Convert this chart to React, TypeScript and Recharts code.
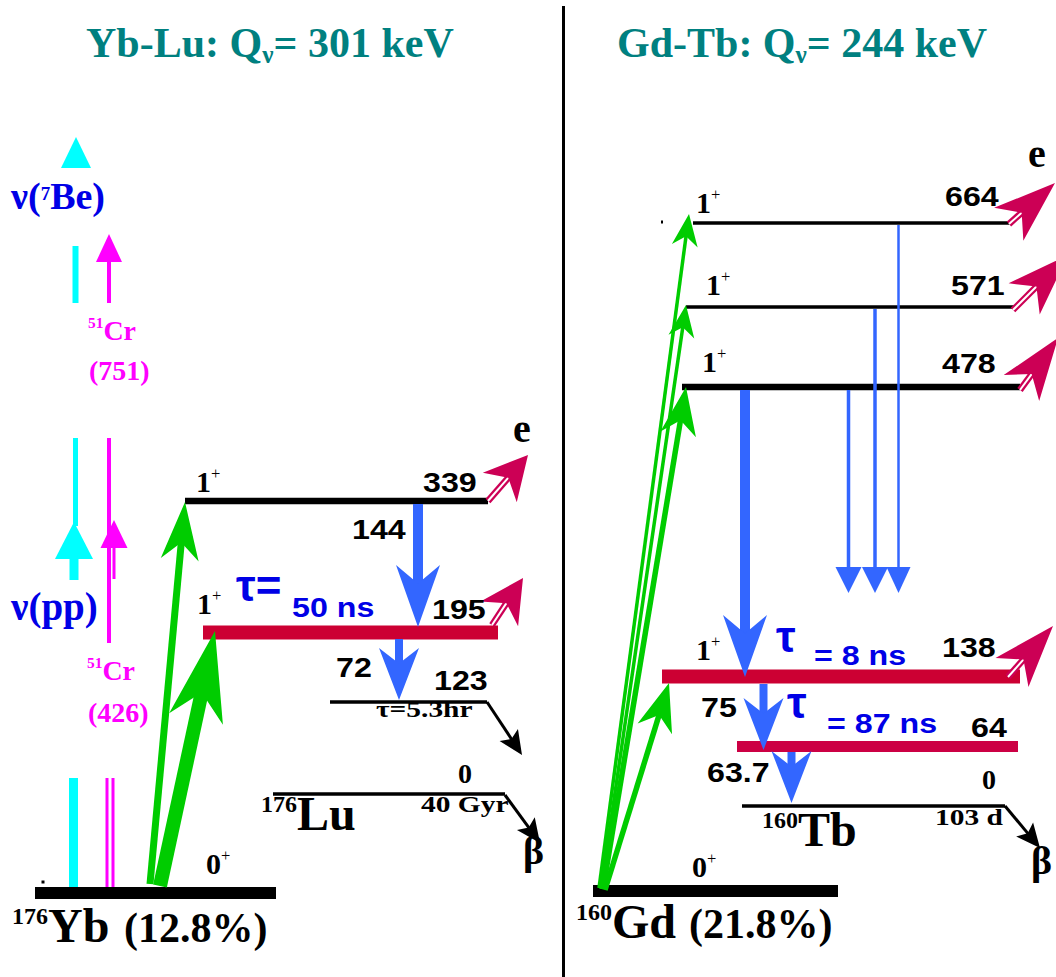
import React from 'react';
import { ComposedChart, XAxis, YAxis, Scatter, ReferenceLine } from 'recharts';

const WIDTH = 1056;
const HEIGHT = 977;

// Diagram grid: x to the right, y downwards (0 = top edge), in drawing units.
const levels = [
  { id: 'yb-0', x1: 35, x2: 276, y: 893, kind: 'ground' },
  { id: 'lu-339', x1: 185, x2: 488, y: 501, kind: 'level' },
  { id: 'lu-195', x1: 203, x2: 498, y: 632.5, kind: 'isomer' },
  { id: 'lu-123', x1: 330, x2: 487, y: 702, kind: 'thin' },
  { id: 'lu-0', x1: 273, x2: 505, y: 794, kind: 'thin' },
  { id: 'gd-0', x1: 593, x2: 838, y: 891, kind: 'ground' },
  { id: 'tb-664', x1: 693, x2: 1013, y: 223, kind: 'thin' },
  { id: 'tb-571', x1: 686, x2: 1017, y: 307, kind: 'thin' },
  { id: 'tb-478', x1: 682, x2: 1020, y: 387, kind: 'level' },
  { id: 'tb-138', x1: 662, x2: 1020, y: 676.5, kind: 'isomer' },
  { id: 'tb-64', x1: 737, x2: 1018, y: 746.5, kind: 'isomerThin' },
  { id: 'tb-0', x1: 742, x2: 1005, y: 806, kind: 'thin' },
];

const dividers = [{ id: 'split', x: 563.5, from: 6, to: 977 }];

// gamma cascades (vertical): start level edge -> arrow tip
const gammas = [
  { id: 'g144', x: 418, from: 504, to: 627, kind: 'gammaBig' },
  { id: 'g72', x: 399, from: 639, to: 700, kind: 'gammaMed' },
  { id: 'g340', x: 745, from: 390, to: 677, kind: 'gammaBig' },
  { id: 'g75', x: 763.5, from: 684, to: 750, kind: 'gammaMed' },
  { id: 'g637', x: 791.5, from: 752, to: 803, kind: 'gammaMed' },
  { id: 'g478', x: 848.5, from: 390, to: 593, kind: 'gammaThin' },
  { id: 'g571', x: 875, from: 309, to: 593, kind: 'gammaThin' },
  { id: 'g664', x: 898.5, from: 225, to: 593, kind: 'gammaHair' },
];

// neutrino captures (green)
const captures = [
  { id: 'nu339', x1: 150, y1: 884, x2: 185, y2: 502, kind: 'nuThin' },
  { id: 'nu195', x1: 160, y1: 886, x2: 215, y2: 631, kind: 'nuThick' },
  { id: 'nu664', x1: 599, y1: 888, x2: 689, y2: 214, kind: 'nuFine' },
  { id: 'nu571', x1: 601, y1: 889, x2: 686, y2: 305, kind: 'nuFine' },
  { id: 'nu478', x1: 603, y1: 889, x2: 686, y2: 387, kind: 'nuMed' },
  { id: 'nu138', x1: 605, y1: 890, x2: 669, y2: 683, kind: 'nuMed' },
];

// conversion electrons
const electrons = [
  { id: 'e339', x1: 488, y1: 501, x2: 528, y2: 455, kind: 'eSmall' },
  { id: 'e195', x1: 492, y1: 625, x2: 523, y2: 578, kind: 'eSmall' },
  { id: 'e664', x1: 1009, y1: 224, x2: 1055, y2: 183, kind: 'eLarge' },
  { id: 'e571', x1: 1013, y1: 310, x2: 1068, y2: 255, kind: 'eLarge' },
  { id: 'e478', x1: 1020, y1: 390, x2: 1058, y2: 338, kind: 'eLarge' },
  { id: 'e138', x1: 1008, y1: 677, x2: 1053, y2: 626, kind: 'eLarge' },
];

// beta decays
const betas = [
  { id: 'b123', x1: 487, y1: 702, x2: 522, y2: 755, kind: 'beta' },
  { id: 'b176', x1: 505, y1: 795, x2: 540, y2: 843, kind: 'beta' },
  { id: 'b160', x1: 1005, y1: 806, x2: 1040, y2: 848, kind: 'beta' },
];

// solar / source neutrino energy markers
const sourceBars = [
  { id: 'be-bar', x1: 75.5, y1: 246, x2: 75.5, y2: 303, kind: 'cyanLine' },
  { id: 'pp-line', x1: 75.5, y1: 438, x2: 75.5, y2: 526, kind: 'cyanThin' },
  { id: 'pp-bar', x1: 73.5, y1: 778, x2: 73.5, y2: 893, kind: 'cyanBar' },
  { id: 'cr-line', x1: 109, y1: 438, x2: 109, y2: 643, kind: 'magLine' },
  { id: 'cr-a', x1: 107, y1: 778, x2: 107, y2: 891, kind: 'magThin' },
  { id: 'cr-b', x1: 113, y1: 778, x2: 113, y2: 891, kind: 'magThin' },
  { id: 'speck-l', x1: 41.5, y1: 882, x2: 44.5, y2: 882, kind: 'speck' },
  { id: 'speck-r', x1: 661, y1: 222, x2: 663, y2: 222, kind: 'speck' },
];

const sourceArrows = [
  { id: 'be', x1: 76, y1: 168, x2: 76, y2: 137, kind: 'cyanHead' },
  { id: 'pp', x1: 74, y1: 580, x2: 74, y2: 522, kind: 'cyanArrow' },
  { id: 'cr751', x1: 109, y1: 303, x2: 109, y2: 234, kind: 'magArrow' },
  { id: 'cr426', x1: 114, y1: 579, x2: 114, y2: 520, kind: 'magArrowSmall' },
];

// text: x = left edge, y = baseline. ^{..} superscript, _{..} subscript
const labels = [
  { x: 86, y: 57, text: 'Yb-Lu: Q_{ν}= 301 keV', kind: 'title' },
  { x: 617, y: 57, text: 'Gd-Tb: Q_{ν}= 244 keV', kind: 'title' },
  { x: 11, y: 209, text: 'ν(^{7}Be)', kind: 'nuBe' },
  { x: 88, y: 340, text: '^{51}Cr', kind: 'source' },
  { x: 89, y: 380, text: '(751)', kind: 'source' },
  { x: 11, y: 620, text: 'ν(pp)', kind: 'nu' },
  { x: 87, y: 680, text: '^{51}Cr', kind: 'source' },
  { x: 88, y: 722, text: '(426)', kind: 'source' },
  { x: 196, y: 492, text: '1^{+}', kind: 'spin' },
  { x: 423, y: 492, text: '339', kind: 'energy' },
  { x: 513, y: 442, text: 'e', kind: 'particle' },
  { x: 352, y: 539, text: '144', kind: 'energy' },
  { x: 197, y: 614, text: '1^{+}', kind: 'spin' },
  { x: 236, y: 601, text: 'τ=', kind: 'tau' },
  { x: 292, y: 617, text: '50 ns', kind: 'tauValue' },
  { x: 432, y: 619, text: '195', kind: 'energy' },
  { x: 336, y: 677, text: '72', kind: 'energy' },
  { x: 434, y: 690, text: '123', kind: 'energy' },
  { x: 376, y: 717, text: 'τ=5.3hr', kind: 'halfLife' },
  { x: 458, y: 783, text: '0', kind: 'zero' },
  { x: 421, y: 812, text: '40 Gyr', kind: 'halfLife' },
  { x: 261, y: 830, text: '^{176}Lu', kind: 'nuclide' },
  { x: 523, y: 864, text: 'β', kind: 'beta' },
  { x: 206, y: 874, text: '0^{+}', kind: 'spin' },
  { x: 12, y: 942, text: '^{176}Yb', kind: 'nuclide' },
  { x: 124, y: 942, text: '(12.8%)', kind: 'abundance' },
  { x: 696, y: 213, text: '1^{+}', kind: 'spin' },
  { x: 945, y: 206, text: '664', kind: 'energy' },
  { x: 1028, y: 167, text: 'e', kind: 'particle' },
  { x: 706, y: 295, text: '1^{+}', kind: 'spin' },
  { x: 951, y: 295, text: '571', kind: 'energy' },
  { x: 702, y: 372, text: '1^{+}', kind: 'spin' },
  { x: 942, y: 373, text: '478', kind: 'energy' },
  { x: 696, y: 660, text: '1^{+}', kind: 'spin' },
  { x: 776, y: 652, text: 'τ', kind: 'tau' },
  { x: 814, y: 665, text: '= 8 ns', kind: 'tauValue' },
  { x: 942, y: 657, text: '138', kind: 'energy' },
  { x: 701, y: 717, text: '75', kind: 'energy' },
  { x: 787, y: 718, text: 'τ', kind: 'tau' },
  { x: 827, y: 733, text: '= 87 ns', kind: 'tauValue' },
  { x: 971, y: 737, text: '64', kind: 'energy' },
  { x: 707, y: 782, text: '63.7', kind: 'energy' },
  { x: 982, y: 789, text: '0', kind: 'zero' },
  { x: 935, y: 825, text: '103 d', kind: 'halfLife' },
  { x: 762, y: 846, text: '^{160}Tb', kind: 'nuclide' },
  { x: 1031, y: 874, text: 'β', kind: 'beta' },
  { x: 692, y: 877, text: '0^{+}', kind: 'spin' },
  { x: 576, y: 938, text: '^{160}Gd', kind: 'nuclide' },
  { x: 689, y: 938, text: '(21.8%)', kind: 'abundance' },
];

const BLUE = '#3366ff';
const GREEN = '#00cc00';
const CRIMSON = '#cc0055';
const TEXT_BLUE = '#0000e6';
const SERIF = '"Liberation Serif", "Times New Roman", serif';
const SANS = '"Liberation Sans", Arial, sans-serif';

const LINE_STYLE: Record<string, { color: string; width: number }> = {
  ground: { color: '#000', width: 12 },
  level: { color: '#000', width: 6.5 },
  thin: { color: '#000', width: 3.5 },
  isomer: { color: '#cc0033', width: 14 },
  isomerThin: { color: '#cc0044', width: 11 },
  divider: { color: '#000', width: 3 },
  cyanLine: { color: '#00ffff', width: 6 },
  cyanThin: { color: '#00ffff', width: 5 },
  cyanBar: { color: '#00ffff', width: 9 },
  magLine: { color: '#ff00ff', width: 4 },
  magThin: { color: '#ff00ff', width: 3 },
  speck: { color: '#000', width: 3 },
};

type ArrowStyle = {
  color: string;
  shaft: number;
  head: number;
  headWidth: number;
  notch: number;
  hollow?: number;
};

const ARROW_STYLE: Record<string, ArrowStyle> = {
  gammaBig: { color: BLUE, shaft: 10, head: 62, headWidth: 44, notch: 0.3 },
  gammaMed: { color: BLUE, shaft: 8, head: 52, headWidth: 40, notch: 0.3 },
  gammaThin: { color: BLUE, shaft: 3.5, head: 26, headWidth: 26, notch: 0 },
  gammaHair: { color: BLUE, shaft: 2.5, head: 26, headWidth: 24, notch: 0 },
  nuThin: { color: GREEN, shaft: 7, head: 58, headWidth: 38, notch: 0.3 },
  nuThick: { color: GREEN, shaft: 14, head: 90, headWidth: 55, notch: 0.3 },
  nuFine: { color: GREEN, shaft: 3.5, head: 32, headWidth: 26, notch: 0.3 },
  nuMed: { color: GREEN, shaft: 5.5, head: 48, headWidth: 36, notch: 0.3 },
  eSmall: { color: CRIMSON, shaft: 6.5, head: 43, headWidth: 45, notch: 0.3, hollow: 2 },
  eLarge: { color: CRIMSON, shaft: 6.5, head: 62, headWidth: 44, notch: 0.28, hollow: 2 },
  beta: { color: '#000', shaft: 3, head: 24, headWidth: 22, notch: 0.2 },
  cyanHead: { color: '#00ffff', shaft: 0, head: 31, headWidth: 30, notch: 0 },
  cyanArrow: { color: '#00ffff', shaft: 9, head: 37, headWidth: 38, notch: 0 },
  magArrow: { color: '#ff00ff', shaft: 4, head: 28, headWidth: 26, notch: 0 },
  magArrowSmall: { color: '#ff00ff', shaft: 3, head: 28, headWidth: 27, notch: 0 },
};

type TextStyle = {
  font: string;
  size: number;
  weight: number;
  color: string;
  sx?: number;
  supScale?: number;
  supShift?: number;
  subShift?: number;
  supWeight?: number;
};

const TEXT_STYLE: Record<string, TextStyle> = {
  title: { font: SERIF, size: 42, weight: 700, color: '#008080', supScale: 0.6, subShift: 0.15 },
  nu: { font: SERIF, size: 39, weight: 700, color: TEXT_BLUE },
  nuBe: { font: SERIF, size: 38, weight: 700, color: TEXT_BLUE, supScale: 0.5, supShift: -0.25 },
  source: { font: SERIF, size: 28, weight: 700, color: '#ff00ff', supScale: 0.55, supShift: -0.42 },
  spin: { font: SERIF, size: 30, weight: 700, color: '#000', supScale: 0.55, supShift: -0.44, supWeight: 400 },
  energy: { font: SANS, size: 28, weight: 700, color: '#000', sx: 1.15 },
  zero: { font: SERIF, size: 28, weight: 700, color: '#000' },
  halfLife: { font: SERIF, size: 23, weight: 700, color: '#000', sx: 1.28 },
  nuclide: { font: SERIF, size: 48, weight: 700, color: '#000', supScale: 0.5, supShift: -0.37 },
  abundance: { font: SERIF, size: 42, weight: 700, color: '#000' },
  tau: { font: SANS, size: 44, weight: 700, color: TEXT_BLUE },
  tauValue: { font: SANS, size: 28, weight: 700, color: TEXT_BLUE, sx: 1.15 },
  particle: { font: SERIF, size: 40, weight: 700, color: '#000' },
  beta: { font: SERIF, size: 40, weight: 700, color: '#000' },
};

function parseMarkup(text: string) {
  return text
    .split(/(\^\{[^}]*\}|_\{[^}]*\})/)
    .filter((s) => s.length > 0)
    .map((s) => {
      if (s.startsWith('^{')) return { t: s.slice(2, -1), mode: 'sup' };
      if (s.startsWith('_{')) return { t: s.slice(2, -1), mode: 'sub' };
      return { t: s, mode: 'normal' };
    });
}

const renderLabel = (props: any) => {
  const { cx, cy, payload } = props;
  const s = TEXT_STYLE[payload.kind];
  const parts = parseMarkup(payload.text);
  let offset = 0;
  return (
    <text
      transform={`translate(${cx},${cy}) scale(${s.sx ?? 1},1)`}
      x={0}
      y={0}
      fontFamily={s.font}
      fontSize={s.size}
      fontWeight={s.weight}
      fill={s.color}
      style={{ whiteSpace: 'pre' }}
    >
      {parts.map((p, i) => {
        const target =
          p.mode === 'sup'
            ? s.size * (s.supShift ?? -0.4)
            : p.mode === 'sub'
            ? s.size * (s.subShift ?? 0.15)
            : 0;
        const dy = target - offset;
        offset = target;
        const small = p.mode !== 'normal';
        return (
          <tspan
            key={i}
            dy={dy}
            fontSize={small ? s.size * (s.supScale ?? 0.55) : s.size}
            fontWeight={p.mode === 'sup' && s.supWeight ? s.supWeight : s.weight}
          >
            {p.t}
          </tspan>
        );
      })}
    </text>
  );
};

function arrowShape(st: ArrowStyle) {
  return (p: any) => {
    const { x1, y1, x2, y2 } = p;
    const dx = x2 - x1;
    const dy = y2 - y1;
    const len = Math.hypot(dx, dy) || 1;
    const ux = dx / len;
    const uy = dy / len;
    const px = -uy;
    const py = ux;
    const hw = st.headWidth / 2;
    const bx = x2 - ux * st.head;
    const by = y2 - uy * st.head;
    const back = st.head * (1 - st.notch);
    const nx = x2 - ux * back;
    const ny = y2 - uy * back;
    const pts = [
      [x2, y2],
      [bx + px * hw, by + py * hw],
      [nx, ny],
      [bx - px * hw, by - py * hw],
    ]
      .map((q) => q.join(','))
      .join(' ');
    const ex = nx + ux * 1.5;
    const ey = ny + uy * 1.5;
    const hasShaft = st.shaft > 0 && len > back;
    return (
      <g>
        {hasShaft && (
          <line x1={x1} y1={y1} x2={ex} y2={ey} stroke={st.color} strokeWidth={st.shaft} />
        )}
        {hasShaft && st.hollow && (
          <line x1={x1} y1={y1} x2={ex} y2={ey} stroke="#fff" strokeWidth={st.hollow} />
        )}
        <polygon points={pts} fill={st.color} />
      </g>
    );
  };
}

function seg(key: string, x1: number, y1: number, x2: number, y2: number, kind: string) {
  const s = LINE_STYLE[kind];
  return (
    <ReferenceLine
      key={key}
      segment={[
        { x: x1, y: y1 },
        { x: x2, y: y2 },
      ]}
      stroke={s.color}
      strokeWidth={s.width}
      ifOverflow="visible"
    />
  );
}

function arrow(key: string, x1: number, y1: number, x2: number, y2: number, kind: string) {
  return (
    <ReferenceLine
      key={key}
      segment={[
        { x: x1, y: y1 },
        { x: x2, y: y2 },
      ]}
      ifOverflow="visible"
      shape={arrowShape(ARROW_STYLE[kind])}
    />
  );
}

export default function App() {
  return (
    <div style={{ position: 'absolute', left: 0, top: 0, width: WIDTH, height: HEIGHT, background: '#fff' }}>
      <ComposedChart width={WIDTH} height={HEIGHT} margin={{ top: 0, right: 0, bottom: 0, left: 0 }}>
        <XAxis type="number" dataKey="x" domain={[0, WIDTH]} hide allowDataOverflow />
        <YAxis type="number" dataKey="y" domain={[0, HEIGHT]} reversed hide allowDataOverflow />

        {dividers.map((d) => seg(d.id, d.x, d.from, d.x, d.to, 'divider'))}
        {sourceBars.map((b) => seg(b.id, b.x1, b.y1, b.x2, b.y2, b.kind))}
        {sourceArrows.map((a) => arrow(a.id, a.x1, a.y1, a.x2, a.y2, a.kind))}
        {levels.map((l) => seg(l.id, l.x1, l.y, l.x2, l.y, l.kind))}
        {gammas.map((g) => arrow(g.id, g.x, g.from, g.x, g.to, g.kind))}
        {captures.map((c) => arrow(c.id, c.x1, c.y1, c.x2, c.y2, c.kind))}
        {electrons.map((e) => arrow(e.id, e.x1, e.y1, e.x2, e.y2, e.kind))}
        {betas.map((b) => arrow(b.id, b.x1, b.y1, b.x2, b.y2, b.kind))}

        <Scatter data={labels} shape={renderLabel} isAnimationActive={false} />
      </ComposedChart>
    </div>
  );
}
